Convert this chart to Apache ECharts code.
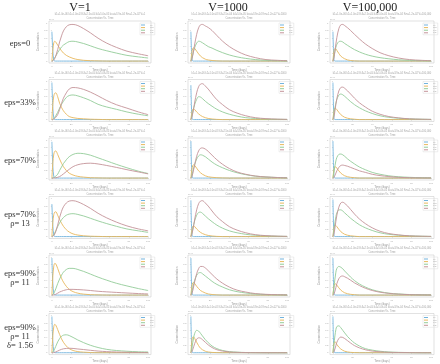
<!DOCTYPE html>
<html><head><meta charset="utf-8">
<script src="https://cdn.jsdelivr.net/npm/echarts@6/dist/echarts.min.js"></script>
<style>html,body{margin:0;padding:0;background:#fff}#c{width:440px;height:364px}</style>
</head><body><div id="c"></div>
<script>
const colHeaders = ['V=1', 'V=1000', 'V=100,000'];
const rowLabels = ['eps=0', 'eps=33%', 'eps=70%', 'eps=70%\nρ= 13', 'eps=90%\nρ= 11', 'eps=90%\nρ= 11\nδ= 1.56'];
const seriesNames = ['[S]', '[ES]', '[P1]', '[P2]'];
const timePoints = [0, 1, 2, 3, 4, 6, 8, 10, 12, 15, 18, 22, 27, 33, 40, 48, 57, 67, 78, 90, 100];
const xTicks = [0, 20, 40, 60, 80, 100];
const yTicks = [0, 0.2, 0.4, 0.6, 0.8, 1.0];

// row 1: eps=0
const eps0_v1_blue = [0.77,0.25,0.03,0,0,0,0,0,0,0,0,0,0,0,0,0,0,0,0,0,0];
const eps0_v1_orange = [0,0.3,0.48,0.52,0.5,0.42,0.34,0.27,0.21,0.15,0.11,0.07,0.04,0.02,0.01,0.005,0,0,0,0,0];
const eps0_v1_green = [0,0.02,0.05,0.09,0.13,0.22,0.3,0.37,0.42,0.47,0.51,0.52,0.5,0.46,0.4,0.33,0.27,0.21,0.15,0.11,0.08];
const eps0_v1_red = [0,0.01,0.03,0.07,0.13,0.3,0.5,0.66,0.79,0.9,0.95,0.96,0.93,0.85,0.74,0.6,0.47,0.36,0.26,0.19,0.14];
const eps0_v1000_blue = [0.77,0.1,0,0,0,0,0,0,0,0,0,0,0,0,0,0,0,0,0,0,0];
const eps0_v1000_orange = [0,0.22,0.33,0.35,0.33,0.26,0.19,0.13,0.09,0.05,0.03,0.015,0.005,0,0,0,0,0,0,0,0];
const eps0_v1000_green = [0,0.08,0.18,0.28,0.36,0.47,0.52,0.51,0.48,0.43,0.38,0.34,0.28,0.22,0.16,0.11,0.07,0.04,0.02,0.01,0.005];
const eps0_v1000_red = [0,0.05,0.15,0.3,0.45,0.7,0.87,0.95,0.96,0.92,0.88,0.8,0.67,0.52,0.38,0.26,0.16,0.09,0.04,0.02,0.01];
const eps0_v100000_blue = [0.77,0.05,0,0,0,0,0,0,0,0,0,0,0,0,0,0,0,0,0,0,0];
const eps0_v100000_orange = [0,0.25,0.33,0.32,0.28,0.2,0.13,0.09,0.06,0.03,0.015,0.005,0,0,0,0,0,0,0,0,0];
const eps0_v100000_green = [0,0.12,0.25,0.36,0.44,0.51,0.52,0.5,0.46,0.41,0.36,0.3,0.24,0.18,0.13,0.09,0.06,0.035,0.02,0.01,0.005];
const eps0_v100000_red = [0,0.08,0.25,0.45,0.62,0.85,0.95,0.96,0.93,0.87,0.8,0.7,0.58,0.45,0.33,0.22,0.14,0.08,0.04,0.02,0.01];

// row 2: eps=33%
const eps33_v1_blue = [0.97,0.3,0.04,0,0,0,0,0,0,0,0,0,0,0,0,0,0,0,0,0,0];
const eps33_v1_orange = [0,0.4,0.62,0.69,0.7,0.6,0.43,0.32,0.23,0.14,0.08,0.05,0.03,0.02,0.01,0.005,0,0,0,0,0];
const eps33_v1_green = [0,0.01,0.03,0.06,0.1,0.19,0.3,0.4,0.48,0.58,0.63,0.645,0.62,0.57,0.5,0.4,0.33,0.27,0.2,0.14,0.1];
const eps33_v1_red = [0,0,0.01,0.03,0.06,0.13,0.26,0.42,0.56,0.7,0.8,0.84,0.83,0.79,0.72,0.62,0.5,0.39,0.3,0.2,0.13];
const eps33_v1000_blue = [0.9,0.08,0,0,0,0,0,0,0,0,0,0,0,0,0,0,0,0,0,0,0];
const eps33_v1000_orange = [0,0.18,0.27,0.28,0.26,0.2,0.15,0.11,0.08,0.05,0.03,0.015,0.005,0,0,0,0,0,0,0,0];
const eps33_v1000_green = [0,0.09,0.2,0.31,0.4,0.53,0.6,0.59,0.55,0.48,0.42,0.35,0.27,0.2,0.14,0.09,0.05,0.03,0.015,0.008,0.004];
const eps33_v1000_red = [0,0.06,0.17,0.31,0.46,0.7,0.86,0.93,0.94,0.88,0.8,0.67,0.52,0.39,0.26,0.17,0.1,0.05,0.025,0.012,0.006];
const eps33_v100000_blue = [0.97,0.05,0,0,0,0,0,0,0,0,0,0,0,0,0,0,0,0,0,0,0];
const eps33_v100000_orange = [0,0.22,0.3,0.29,0.26,0.19,0.13,0.09,0.06,0.035,0.02,0.01,0,0,0,0,0,0,0,0,0];
const eps33_v100000_green = [0,0.14,0.3,0.43,0.53,0.64,0.67,0.65,0.61,0.54,0.47,0.39,0.31,0.23,0.16,0.1,0.06,0.035,0.02,0.01,0.005];
const eps33_v100000_red = [0,0.07,0.22,0.4,0.55,0.75,0.84,0.85,0.82,0.75,0.67,0.56,0.44,0.33,0.22,0.14,0.08,0.045,0.02,0.01,0.005];

// row 3: eps=70%
const eps70_v1_blue = [0.95,0.3,0.04,0,0,0,0,0,0,0,0,0,0,0,0,0,0,0,0,0,0];
const eps70_v1_orange = [0,0.4,0.63,0.7,0.71,0.62,0.5,0.39,0.3,0.2,0.13,0.08,0.045,0.025,0.01,0.005,0,0,0,0,0];
const eps70_v1_green = [0,0.005,0.015,0.03,0.05,0.1,0.2,0.29,0.38,0.48,0.56,0.62,0.65,0.64,0.6,0.53,0.45,0.36,0.27,0.18,0.12];
const eps70_v1_red = [0,0,0,0.005,0.01,0.02,0.04,0.07,0.11,0.17,0.23,0.3,0.35,0.38,0.39,0.37,0.33,0.28,0.22,0.16,0.11];
const eps70_v1000_blue = [0.97,0.08,0,0,0,0,0,0,0,0,0,0,0,0,0,0,0,0,0,0,0];
const eps70_v1000_orange = [0,0.22,0.33,0.35,0.33,0.26,0.19,0.14,0.1,0.06,0.035,0.02,0.01,0.004,0,0,0,0,0,0,0];
const eps70_v1000_green = [0,0.07,0.17,0.27,0.36,0.5,0.58,0.61,0.6,0.56,0.5,0.42,0.34,0.27,0.2,0.14,0.09,0.05,0.03,0.015,0.008];
const eps70_v1000_red = [0,0.04,0.12,0.24,0.36,0.57,0.71,0.78,0.79,0.76,0.7,0.6,0.48,0.36,0.25,0.16,0.1,0.055,0.03,0.015,0.007];
const eps70_v100000_blue = [0.97,0.05,0,0,0,0,0,0,0,0,0,0,0,0,0,0,0,0,0,0,0];
const eps70_v100000_orange = [0,0.22,0.3,0.29,0.26,0.19,0.13,0.09,0.06,0.035,0.02,0.01,0,0,0,0,0,0,0,0,0];
const eps70_v100000_green = [0,0.15,0.32,0.45,0.54,0.62,0.63,0.61,0.57,0.5,0.44,0.37,0.29,0.22,0.15,0.1,0.06,0.035,0.02,0.01,0.005];
const eps70_v100000_red = [0,0.02,0.07,0.13,0.19,0.28,0.33,0.34,0.33,0.31,0.28,0.24,0.19,0.15,0.1,0.065,0.04,0.02,0.01,0.005,0.003];

// row 4: eps=70%, rho=13
const eps70rho_v1_blue = [0.85,0.28,0.04,0,0,0,0,0,0,0,0,0,0,0,0,0,0,0,0,0,0];
const eps70rho_v1_orange = [0,0.38,0.58,0.64,0.65,0.56,0.45,0.35,0.27,0.18,0.12,0.07,0.04,0.02,0.01,0.005,0,0,0,0,0];
const eps70rho_v1_green = [0,0.02,0.05,0.1,0.15,0.26,0.36,0.44,0.5,0.56,0.59,0.6,0.58,0.54,0.48,0.41,0.34,0.27,0.2,0.15,0.11];
const eps70rho_v1_red = [0,0.01,0.03,0.07,0.13,0.3,0.5,0.66,0.78,0.88,0.93,0.94,0.91,0.84,0.74,0.61,0.49,0.38,0.28,0.2,0.15];
const eps70rho_v1000_blue = [0.95,0.08,0,0,0,0,0,0,0,0,0,0,0,0,0,0,0,0,0,0,0];
const eps70rho_v1000_orange = [0,0.18,0.27,0.28,0.26,0.2,0.15,0.11,0.08,0.05,0.03,0.015,0.005,0,0,0,0,0,0,0,0];
const eps70rho_v1000_green = [0,0.09,0.2,0.32,0.42,0.56,0.63,0.64,0.61,0.54,0.47,0.39,0.3,0.22,0.15,0.1,0.06,0.035,0.02,0.01,0.005];
const eps70rho_v1000_red = [0,0.06,0.17,0.31,0.46,0.7,0.86,0.93,0.94,0.88,0.8,0.67,0.52,0.39,0.26,0.17,0.1,0.05,0.025,0.012,0.006];
const eps70rho_v100000_blue = [0.97,0.05,0,0,0,0,0,0,0,0,0,0,0,0,0,0,0,0,0,0,0];
const eps70rho_v100000_orange = [0,0.22,0.3,0.29,0.26,0.19,0.13,0.09,0.06,0.035,0.02,0.01,0,0,0,0,0,0,0,0,0];
const eps70rho_v100000_green = [0,0.17,0.36,0.52,0.62,0.7,0.7,0.67,0.62,0.55,0.48,0.4,0.31,0.23,0.16,0.1,0.06,0.035,0.02,0.01,0.005];
const eps70rho_v100000_red = [0,0.07,0.22,0.4,0.56,0.77,0.88,0.9,0.87,0.8,0.71,0.59,0.46,0.34,0.23,0.14,0.08,0.045,0.02,0.01,0.005];

// row 5: eps=90%, rho=11
const eps90rho_v1_blue = [0.97,0.3,0.04,0,0,0,0,0,0,0,0,0,0,0,0,0,0,0,0,0,0];
const eps90rho_v1_orange = [0,0.5,0.76,0.83,0.82,0.7,0.56,0.44,0.34,0.23,0.15,0.09,0.05,0.025,0.01,0.005,0,0,0,0,0];
const eps90rho_v1_green = [0,0.02,0.05,0.1,0.16,0.3,0.42,0.52,0.6,0.67,0.7,0.7,0.67,0.62,0.55,0.47,0.39,0.31,0.24,0.17,0.12];
const eps90rho_v1_red = [0,0,0.005,0.01,0.02,0.05,0.08,0.1,0.12,0.14,0.15,0.15,0.145,0.135,0.12,0.1,0.085,0.07,0.055,0.04,0.03];
const eps90rho_v1000_blue = [0.97,0.08,0,0,0,0,0,0,0,0,0,0,0,0,0,0,0,0,0,0,0];
const eps90rho_v1000_orange = [0,0.22,0.32,0.33,0.3,0.23,0.17,0.12,0.09,0.055,0.03,0.015,0.005,0,0,0,0,0,0,0,0];
const eps90rho_v1000_green = [0,0.08,0.19,0.3,0.39,0.52,0.58,0.59,0.56,0.5,0.44,0.36,0.28,0.21,0.14,0.09,0.055,0.03,0.015,0.008,0.004];
const eps90rho_v1000_red = [0,0.04,0.12,0.24,0.36,0.56,0.69,0.75,0.75,0.71,0.64,0.54,0.42,0.31,0.21,0.13,0.08,0.04,0.02,0.01,0.005];
const eps90rho_v100000_blue = [0.97,0.05,0,0,0,0,0,0,0,0,0,0,0,0,0,0,0,0,0,0,0];
const eps90rho_v100000_orange = [0,0.22,0.3,0.29,0.26,0.19,0.13,0.09,0.06,0.035,0.02,0.01,0,0,0,0,0,0,0,0,0];
const eps90rho_v100000_green = [0,0.2,0.42,0.6,0.7,0.75,0.73,0.69,0.63,0.55,0.47,0.38,0.29,0.21,0.14,0.09,0.05,0.03,0.015,0.008,0.004];
const eps90rho_v100000_red = [0,0.03,0.1,0.2,0.3,0.43,0.49,0.5,0.48,0.44,0.39,0.32,0.25,0.18,0.12,0.075,0.045,0.025,0.012,0.006,0.003];

// row 6: eps=90%, rho=11, delta=1.56
const eps90delta_v1_blue = [0.97,0.3,0.04,0,0,0,0,0,0,0,0,0,0,0,0,0,0,0,0,0,0];
const eps90delta_v1_orange = [0,0.46,0.7,0.76,0.74,0.62,0.49,0.37,0.28,0.18,0.11,0.06,0.03,0.015,0.005,0,0,0,0,0,0];
const eps90delta_v1_green = [0,0.02,0.06,0.11,0.17,0.29,0.38,0.44,0.47,0.48,0.46,0.41,0.34,0.27,0.2,0.14,0.09,0.06,0.04,0.025,0.02];
const eps90delta_v1_red = [0,0,0.005,0.01,0.02,0.045,0.07,0.09,0.105,0.115,0.12,0.115,0.1,0.085,0.065,0.045,0.03,0.02,0.012,0.008,0.005];
const eps90delta_v1000_blue = [0.97,0.06,0,0,0,0,0,0,0,0,0,0,0,0,0,0,0,0,0,0,0];
const eps90delta_v1000_orange = [0,0.3,0.42,0.42,0.38,0.28,0.19,0.12,0.08,0.04,0.02,0.008,0.003,0,0,0,0,0,0,0,0];
const eps90delta_v1000_green = [0,0.12,0.28,0.42,0.52,0.6,0.58,0.52,0.45,0.35,0.27,0.18,0.11,0.06,0.03,0.015,0.006,0.003,0,0,0];
const eps90delta_v1000_red = [0,0.03,0.09,0.17,0.25,0.36,0.4,0.39,0.35,0.28,0.21,0.14,0.08,0.045,0.02,0.01,0.004,0.002,0,0,0];
const eps90delta_v100000_blue = [0.97,0.04,0,0,0,0,0,0,0,0,0,0,0,0,0,0,0,0,0,0,0];
const eps90delta_v100000_orange = [0,0.24,0.3,0.27,0.22,0.15,0.1,0.065,0.04,0.02,0.01,0.004,0,0,0,0,0,0,0,0,0];
const eps90delta_v100000_green = [0,0.22,0.45,0.62,0.7,0.72,0.67,0.6,0.53,0.43,0.35,0.26,0.18,0.11,0.07,0.04,0.02,0.01,0.005,0,0];
const eps90delta_v100000_red = [0,0.03,0.1,0.19,0.28,0.38,0.42,0.41,0.38,0.32,0.26,0.19,0.13,0.08,0.045,0.025,0.012,0.006,0.003,0,0];

const chartRows = [
  [[eps0_v1_blue,eps0_v1_orange,eps0_v1_green,eps0_v1_red],[eps0_v1000_blue,eps0_v1000_orange,eps0_v1000_green,eps0_v1000_red],[eps0_v100000_blue,eps0_v100000_orange,eps0_v100000_green,eps0_v100000_red]],
  [[eps33_v1_blue,eps33_v1_orange,eps33_v1_green,eps33_v1_red],[eps33_v1000_blue,eps33_v1000_orange,eps33_v1000_green,eps33_v1000_red],[eps33_v100000_blue,eps33_v100000_orange,eps33_v100000_green,eps33_v100000_red]],
  [[eps70_v1_blue,eps70_v1_orange,eps70_v1_green,eps70_v1_red],[eps70_v1000_blue,eps70_v1000_orange,eps70_v1000_green,eps70_v1000_red],[eps70_v100000_blue,eps70_v100000_orange,eps70_v100000_green,eps70_v100000_red]],
  [[eps70rho_v1_blue,eps70rho_v1_orange,eps70rho_v1_green,eps70rho_v1_red],[eps70rho_v1000_blue,eps70rho_v1000_orange,eps70rho_v1000_green,eps70rho_v1000_red],[eps70rho_v100000_blue,eps70rho_v100000_orange,eps70rho_v100000_green,eps70rho_v100000_red]],
  [[eps90rho_v1_blue,eps90rho_v1_orange,eps90rho_v1_green,eps90rho_v1_red],[eps90rho_v1000_blue,eps90rho_v1000_orange,eps90rho_v1000_green,eps90rho_v1000_red],[eps90rho_v100000_blue,eps90rho_v100000_orange,eps90rho_v100000_green,eps90rho_v100000_red]],
  [[eps90delta_v1_blue,eps90delta_v1_orange,eps90delta_v1_green,eps90delta_v1_red],[eps90delta_v1000_blue,eps90delta_v1000_orange,eps90delta_v1000_green,eps90delta_v1000_red],[eps90delta_v100000_blue,eps90delta_v100000_orange,eps90delta_v100000_green,eps90delta_v100000_red]]
];

const lineColors = ['#72b3dd', '#e8b85c', '#93cc98', '#c49399'];
const colLeft = [49, 188, 330];
const colWidth = [102, 102, 104];
const headerX = [80, 228, 370];
const rowTop0 = 21, rowPitch = 58.5, plotH = 42;

const grids = [], xAxes = [], yAxes = [], series = [], legends = [], graphics = [];

colHeaders.forEach((t, c) => graphics.push({type: 'text', x: headerX[c], y: 8, style: {text: t, font: '12px "Liberation Serif"', fill: '#222', textAlign: 'center', textVerticalAlign: 'middle'}}));

chartRows.forEach((row, r) => {
  const top = rowTop0 + rowPitch * r;
  graphics.push({type: 'text', x: 20, y: top + plotH / 2 + 2, style: {text: rowLabels[r], font: '8.5px "Liberation Serif"', fill: '#333', textAlign: 'center', textVerticalAlign: 'middle', lineHeight: 9}});
  row.forEach((ser, c) => {
    const gi = grids.length;
    const left = colLeft[c], w = colWidth[c];
    grids.push({left: left, top: top, width: w, height: plotH, show: true, borderColor: '#cfcfcf', borderWidth: 0.6, backgroundColor: '#fff'});
    xAxes.push({type: 'value', gridIndex: gi, min: -3, max: 103, splitLine: {show: false}, axisLine: {show: false},
      axisTick: {show: true, length: 1, lineStyle: {color: '#bbb', width: 0.5}, customValues: xTicks},
      axisLabel: {show: true, margin: 1.5, fontSize: 2.5, color: '#aaa', customValues: xTicks},
      name: 'Time (days)', nameLocation: 'middle', nameGap: 5, nameTextStyle: {fontSize: 3, color: '#999'}});
    yAxes.push({type: 'value', gridIndex: gi, min: -0.05, max: 1.05, splitLine: {show: false}, axisLine: {show: false},
      axisTick: {show: true, length: 1, lineStyle: {color: '#bbb', width: 0.5}, customValues: yTicks},
      axisLabel: {show: true, margin: 1.5, fontSize: 2.5, color: '#aaa', customValues: yTicks},
      name: 'Concentration', nameLocation: 'middle', nameGap: 6, nameTextStyle: {fontSize: 3, color: '#999'}});
    ser.forEach((vals, k) => {
      series.push({type: 'line', name: seriesNames[k], xAxisIndex: gi, yAxisIndex: gi, showSymbol: false, smooth: 0.35,
        lineStyle: {width: 0.9, color: lineColors[k]}, itemStyle: {color: lineColors[k]},
        data: timePoints.map((t, i) => [t, vals[i]]), silent: true, animation: false});
    });
    legends.push({data: seriesNames, orient: 'vertical', left: left + w - 11, top: top + 2, itemWidth: 4, itemHeight: 1, itemGap: 0.6,
      icon: 'rect', padding: 1, borderColor: '#ddd', borderWidth: 0.5, selectedMode: false, textStyle: {fontSize: 2, color: '#aaa', padding: 0}});
    graphics.push({type: 'text', x: left + w / 2, y: top - 6.5, style: {text: 'k1=1.0e-06 k2=1.0e-03 k3=2.5e-04 k4=5.0e-05 kcat=3.9e-04 Km=1.2e-02 V=' + colHeaders[c].slice(2), fontSize: 2.6, fill: '#a5a5a5', textAlign: 'center', textVerticalAlign: 'middle'}});
    graphics.push({type: 'text', x: left + w / 2, y: top - 2.5, style: {text: 'Concentration Vs. Time', fontSize: 2.6, fill: '#a5a5a5', textAlign: 'center', textVerticalAlign: 'middle'}});
    graphics.push({type: 'text', x: left, y: top - 2, style: {text: '1e-5', fontSize: 2.4, fill: '#aaa', textAlign: 'left', textVerticalAlign: 'middle'}});
  });
});

const chart = echarts.init(document.getElementById('c'), null, {renderer: 'canvas'});
chart.setOption({animation: false, backgroundColor: '#fff', grid: grids, xAxis: xAxes, yAxis: yAxes, series: series, legend: legends, graphic: graphics});
</script></body></html>
